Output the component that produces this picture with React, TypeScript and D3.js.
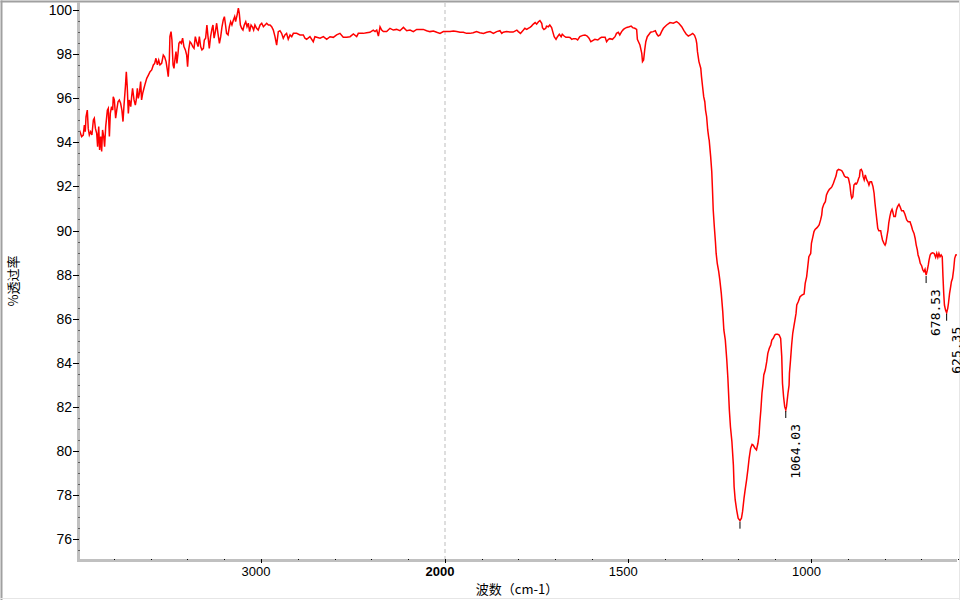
import React from "react";
import * as d3 from "d3";

// ---- data (wavenumber cm-1, % transmittance) ----
const spectrum: [number, number][] = [
  [4000,94.4],[3990,94.3],[3984,94.48],[3975,94.26],[3966,94.33],[3960,94.78],[3955,94.48],[3951,95.16],[3944,95.46],[3939,94.63],[3933,94.33],[3926,94.48],[3919,94.33],[3911,95.01],[3906,95.09],[3900,94.63],[3893,94.41],[3888,93.80],[3882,94.71],[3877,93.65],[3871,94.26],[3866,93.58],[3861,94.56],[3855,94.26],[3850,93.80],[3844,94.71],[3835,95.46],[3830,95.54],[3824,94.26],[3819,95.31],[3812,95.62],[3806,95.46],[3803,96.07],[3797,95.92],[3790,95.09],[3784,95.46],[3777,95.84],[3770,95.92],[3763,95.77],[3756,95.46],[3750,94.94],[3745,95.62],[3737,96.52],[3732,97.20],[3727,96.52],[3721,95.31],[3716,95.92],[3708,95.62],[3703,96.07],[3698,96.45],[3690,95.92],[3683,95.69],[3678,95.92],[3672,96.45],[3667,95.99],[3661,96.22],[3654,96.75],[3649,95.92],[3643,96.22],[3636,96.45],[3629,96.67],[3621,96.90],[3612,97.05],[3603,97.20],[3594,97.28],[3585,97.51],[3578,97.58],[3571,97.81],[3563,97.51],[3556,97.73],[3549,97.51],[3540,97.58],[3531,97.96],[3524,97.88],[3516,97.66],[3509,97.28],[3504,96.98],[3498,97.81],[3495,98.79],[3489,99.02],[3484,98.64],[3478,97.51],[3473,97.35],[3467,97.81],[3462,98.11],[3457,97.58],[3451,98.03],[3446,98.49],[3440,98.56],[3433,98.49],[3426,98.72],[3419,98.34],[3411,98.19],[3404,97.96],[3399,97.43],[3393,98.19],[3386,98.56],[3379,98.49],[3371,98.34],[3364,98.26],[3357,98.79],[3350,98.56],[3342,98.34],[3335,98.79],[3328,98.34],[3321,98.19],[3313,98.26],[3308,98.64],[3301,98.72],[3294,99.32],[3288,98.79],[3281,98.26],[3274,98.79],[3266,99.17],[3261,99.32],[3255,98.72],[3248,99.02],[3241,99.40],[3234,98.94],[3226,98.49],[3219,98.79],[3212,99.24],[3205,99.55],[3199,99.70],[3194,99.40],[3187,98.94],[3179,98.87],[3172,99.24],[3165,99.47],[3158,99.32],[3150,99.55],[3143,99.70],[3138,99.47],[3130,99.77],[3123,100.08],[3118,99.85],[3112,99.32],[3105,99.17],[3098,99.09],[3091,99.32],[3083,99.47],[3076,99.24],[3069,99.40],[3062,99.02],[3054,99.32],[3047,99.24],[3040,99.09],[3033,99.32],[3024,99.17],[3015,99.09],[3005,99.32],[2996,99.40],[2987,99.24],[2978,99.32],[2969,99.40],[2960,99.32],[2951,99.32],[2942,99.24],[2933,99.09],[2924,98.79],[2915,98.41],[2906,99.02],[2897,99.06],[2888,98.94],[2879,98.72],[2870,98.87],[2861,98.94],[2852,98.67],[2842,98.87],[2833,98.79],[2824,98.94],[2806,98.94],[2788,98.87],[2770,98.87],[2761,98.72],[2752,98.67],[2734,98.79],[2716,98.56],[2707,98.79],[2679,98.72],[2661,98.79],[2643,98.67],[2625,98.79],[2607,98.76],[2589,98.87],[2571,98.94],[2553,98.76],[2534,98.76],[2516,98.79],[2498,98.91],[2480,98.79],[2471,98.94],[2444,98.94],[2426,98.97],[2408,98.99],[2390,99.09],[2380,99.02],[2371,99.09],[2362,98.82],[2353,99.24],[2344,99.09],[2335,99.02],[2317,99.02],[2299,99.17],[2281,99.09],[2263,99.12],[2245,99.06],[2226,99.21],[2208,99.06],[2190,99.09],[2172,99.02],[2154,99.12],[2136,99.12],[2118,99.12],[2100,99.06],[2082,99.02],[2063,99.05],[2045,98.99],[2027,98.94],[2009,99.02],
  [1995,99.02],[1986,99.02],[1977,99.05],[1968,99.02],[1959,98.99],[1950,98.99],[1941,98.94],[1932,98.94],[1923,98.97],[1914,99.02],[1905,98.97],[1895,98.94],[1886,98.99],[1877,99.02],[1868,98.94],[1859,99.02],[1850,99.06],[1845,98.94],[1841,98.99],[1832,99.02],[1823,99.0],[1814,99.0],[1804,99.09],[1800,99.02],[1794,98.94],[1786,99.09],[1782,99.17],[1777,99.12],[1773,99.17],[1768,99.21],[1764,99.27],[1759,99.36],[1754,99.43],[1750,99.36],[1745,99.47],[1741,99.52],[1736,99.40],[1734,99.20],[1730,99.12],[1725,99.17],[1723,99.27],[1718,99.24],[1714,99.32],[1709,99.20],[1706,99.02],[1702,98.79],[1697,98.67],[1693,98.79],[1688,98.90],[1683,98.79],[1680,98.90],[1675,98.82],[1670,98.76],[1663,98.76],[1659,98.75],[1654,98.67],[1650,98.70],[1643,98.70],[1638,98.64],[1632,98.79],[1624,98.85],[1618,98.87],[1612,98.82],[1607,98.72],[1602,98.56],[1597,98.61],[1591,98.67],[1583,98.64],[1577,98.72],[1573,98.76],[1563,98.76],[1559,98.56],[1554,98.67],[1550,98.70],[1543,98.67],[1536,98.79],[1532,98.94],[1527,98.99],[1523,98.87],[1518,99.02],[1513,99.12],[1509,99.17],[1504,99.21],[1497,99.24],[1492,99.27],[1488,99.20],[1482,99.17],[1477,99.12],[1475,98.67],[1472,98.56],[1468,98.41],[1463,98.03],[1461,97.66],[1458,97.73],[1455,98.19],[1452,98.56],[1448,98.79],[1443,98.90],[1439,98.99],[1432,99.02],[1426,99.06],[1422,98.91],[1418,98.82],[1413,98.87],[1409,99.02],[1404,99.17],[1400,99.24],[1395,99.32],[1386,99.43],[1377,99.40],[1368,99.47],[1362,99.40],[1354,99.24],[1348,99.06],[1342,98.91],[1336,98.82],[1330,98.87],[1324,98.94],[1319,98.85],[1315,98.67],[1313,98.49],[1311,98.11],[1307,97.66],[1302,97.36],[1300,96.98],[1297,96.52],[1294,96.07],[1291,95.84],[1289,95.46],[1286,95.16],[1283,94.56],[1280,94.18],[1279,94.10],[1275,93.35],[1272,92.67],[1270,91.84],[1268,90.93],[1265,90.17],[1262,89.49],[1260,88.96],[1257,88.51],[1253,88.13],[1250,87.76],[1246,87.15],[1242,86.32],[1239,85.49],[1235,85.03],[1231,84.13],[1228,83.30],[1224,81.86],[1221,81.10],[1217,80.42],[1213,79.37],[1211,78.38],[1208,77.78],[1204,77.32],[1200,76.95],[1195,76.84],[1191,76.95],[1188,77.25],[1184,77.85],[1181,78.23],[1177,78.68],[1173,79.21],[1170,79.67],[1166,80.12],[1162,80.30],[1159,80.27],[1154,80.12],[1150,80.05],[1146,80.35],[1143,80.73],[1141,81.26],[1138,81.86],[1135,82.62],[1132,83.07],[1130,83.45],[1126,83.67],[1122,84.05],[1119,84.43],[1115,84.66],[1111,84.81],[1108,85.03],[1104,85.11],[1100,85.26],[1097,85.29],[1092,85.29],[1088,85.26],[1084,85.11],[1081,84.28],[1079,83.07],[1076,82.46],[1073,82.01],[1070,81.86],[1068,82.01],[1064,82.62],[1061,82.99],[1060,83.52],[1057,84.13],[1054,84.81],[1051,85.34],[1048,85.64],[1045,85.94],[1042,86.24],[1040,86.62],[1036,86.77],[1031,87.00],[1026,87.07],[1020,87.12],[1017,87.60],[1013,87.91],[1010,88.36],[1007,88.81],[1002,88.96],[1000,89.42],[996,89.72],[993,89.95],[990,90.05],[984,90.14],[979,90.25],[975,90.48],[972,90.70],[970,91.01],[966,91.20],[962,91.31],[959,91.61],[955,91.76],[951,91.87],[948,91.91],[944,91.99],[940,92.14],[937,92.29],[933,92.47],[930,92.71],[926,92.77],[920,92.74],[917,92.71],[913,92.59],[910,92.47],[906,92.41],[902,92.41],[899,92.37],[895,92.06],[892,91.61],[890,91.46],[887,91.53],[884,92.06],[880,92.14],[877,92.11],[874,92.21],[871,92.37],[869,92.44],[867,92.74],[864,92.77],[861,92.67],[859,92.44],[856,92.29],[853,92.52],[849,92.29],[846,92.21],[843,92.06],[840,92.21],[836,92.21],[832,91.99],[829,91.69],[827,91.31],[824,90.85],[821,90.40],[819,90.10],[816,89.99],[811,89.99],[809,89.80],[806,89.57],[802,89.42],[799,89.34],[797,89.42],[794,89.72],[791,90.02],[789,90.33],[786,90.63],[783,90.85],[780,90.96],[778,90.85],[775,90.63],[771,90.63],[768,90.93],[765,91.08],[761,91.19],[758,91.08],[754,90.90],[749,90.90],[745,90.75],[740,90.48],[736,90.40],[731,90.40],[727,90.20],[724,90.02],[720,89.87],[717,89.65],[714,89.34],[711,89.12],[709,88.89],[706,88.74],[703,88.51],[699,88.39],[696,88.21],[693,88.13],[690,88.24],[688,88.06],[687,87.98],[684,88.18],[681,88.44],[679,88.66],[676,88.89],[673,88.96],[669,88.99],[665,88.96],[661,88.78],[658,88.96],[655,88.78],[652,88.96],[649,88.81],[646,88.89],[643,88.81],[641,87.91],[639,87.15],[637,86.62],[634,86.39],[631,86.27],[628,86.47],[626,86.70],[623,87.15],[620,87.45],[618,87.68],[615,87.83],[612,88.21],[609,88.74],[606,88.89],[603,88.9]
];

const yTickValues = [76, 78, 80, 82, 84, 86, 88, 90, 92, 94, 96, 98, 100];
const xTickLabels = [3000, 2000, 1500, 1000];
const xMinorHigh = [3800, 3600, 3400, 3200, 2800, 2600, 2400, 2200];
const xMinorLow = [1900, 1800, 1700, 1600, 1400, 1300, 1200, 1100, 900, 800, 700, 600];
const peakPositions = [1194, 1064.03, 678.53, 625.35];
const peakLabels = ["", "1064.03", "678.53", "625.35"];
const yTitle = "%透过率";
const xTitle = "波数（cm-1）";

export default function App() {
  const W = 960, H = 600;
  const x = d3.scaleLinear().domain([4000, 2000, 600]).range([77, 445, 958]);
  const y = d3.scaleLinear().domain([100, 76]).range([10, 539.2]);
  const line = d3.line<[number, number]>().x(d => x(d[0])).y(d => y(d[1]));
  const yMinor: number[] = d3.range(75.5, 100.01, 0.5).filter(v => Math.abs(v % 2) > 0.01);

  const peaks = peakPositions.map((p, i) => {
    const near = spectrum.filter(d => Math.abs(d[0] - p) <= 12);
    const m = near.reduce((a, b) => (b[1] < a[1] ? b : a), near[0]);
    return { px: x(m[0]), py: y(m[1]), label: peakLabels[i] };
  });

  return (
    <svg width={W} height={H} style={{ position: "absolute", left: 0, top: 0, display: "block" }}
      fontFamily="'Liberation Sans', Arial, sans-serif">
      <rect x={0} y={0} width={W} height={H} fill="#ffffff" />
      <defs>
        <clipPath id="plotclip">
          <rect x={80} y={3} width={878} height={556} />
        </clipPath>
      </defs>
      {/* frame */}
      <rect x={0.5} y={0.5} width={2} height={H} fill="#a0a0a0" />
      <rect x={0.5} y={0.5} width={W} height={2} fill="#a0a0a0" />
      <rect x={959} y={0} width={1} height={H} fill="#e6e6e6" />
      <rect x={0} y={598} width={W} height={1} fill="#e6e6e6" />

      {/* dashed 2000 line */}
      <line x1={x(2000)} x2={x(2000)} y1={3} y2={559} stroke="#bdbdbd" strokeDasharray="4,3" />

      {/* spectrum */}
      <path d={line(spectrum) || ""} fill="none" stroke="#ff0000" strokeWidth={1.5}
        strokeLinejoin="miter" clipPath="url(#plotclip)" />

      {/* axes bands */}
      <rect x={77} y={2} width={3} height={560} fill="#c0c0c0" />
      <rect x={77} y={559} width={880} height={3} fill="#c0c0c0" />

      {/* y ticks */}
      {yTickValues.map(v => (
        <g key={"yt" + v}>
          <line x1={73} x2={79} y1={Math.round(y(v)) + 0.5} y2={Math.round(y(v)) + 0.5} stroke="#000" />
          <text x={72} y={y(v) + 5} fontSize={14} textAnchor="end" fill="#000">{v}</text>
        </g>
      ))}
      {yMinor.map(v => (
        <rect key={"ym" + v} x={78.5} y={Math.round(y(v))} width={1} height={1} fill="#000" />
      ))}

      {/* x ticks */}
      {xTickLabels.map(v => (
        <g key={"xt" + v}>
          <line x1={Math.round(x(v)) + 0.5} x2={Math.round(x(v)) + 0.5} y1={559} y2={563} stroke="#000" />
          <text x={x(v) - 5} y={576} fontSize={13} textAnchor="middle" fill="#000"
            fontWeight={v === 2000 ? "bold" : "normal"}>{v}</text>
        </g>
      ))}
      {[...xMinorHigh, ...xMinorLow].map(v => (
        <rect key={"xm" + v} x={Math.round(x(v))} y={559} width={1} height={1} fill="#000" />
      ))}

      {/* peak annotations */}
      {peaks.map((p, i) => (
        <g key={"pk" + i}>
          <line x1={p.px} x2={p.px} y1={p.py + 1} y2={p.py + 8} stroke="#000" strokeWidth={1} />
          {p.label && (
            <text transform={`translate(${p.px + 14},${p.py + 14}) rotate(-90)`} textAnchor="end"
              fontSize={13} fontFamily="'DejaVu Sans Mono', monospace" fill="#000">{p.label}</text>
          )}
        </g>
      ))}

      {/* axis titles */}
      <text transform="translate(18,281) rotate(-90)" textAnchor="middle" fontSize={13}
        fontFamily="'Noto Sans CJK SC', sans-serif" fill="#000">{yTitle}</text>
      <text x={517} y={594} textAnchor="middle" fontSize={13}
        fontFamily="'Noto Sans CJK SC', sans-serif" fill="#000">{xTitle}</text>
    </svg>
  );
}
